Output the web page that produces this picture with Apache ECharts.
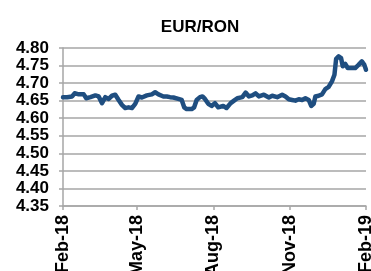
<!DOCTYPE html>
<html>
<head>
<meta charset="utf-8">
<script src="https://cdn.jsdelivr.net/npm/echarts@6/dist/echarts.min.js"></script>
<style>
  html, body { margin: 0; padding: 0; background: #fff; }
  #chart { width: 371px; height: 271px; }
</style>
</head>
<body>
<div id="chart"></div>
<script>
// EUR/RON daily fix
const dates = [
  '2018-02-01', '2018-02-06', '2018-02-12', '2018-02-15', '2018-02-20', '2018-02-26',
  '2018-03-01', '2018-03-06', '2018-03-12', '2018-03-16', '2018-03-20', '2018-03-24',
  '2018-03-28', '2018-04-01', '2018-04-05', '2018-04-09', '2018-04-13', '2018-04-17',
  '2018-04-21', '2018-04-25', '2018-04-29', '2018-05-03', '2018-05-07', '2018-05-13',
  '2018-05-19', '2018-05-23', '2018-05-27', '2018-06-02', '2018-06-06', '2018-06-10',
  '2018-06-14', '2018-06-20', '2018-06-24', '2018-06-27', '2018-06-30', '2018-07-06',
  '2018-07-09', '2018-07-12', '2018-07-16', '2018-07-19', '2018-07-22', '2018-07-26',
  '2018-07-30', '2018-08-03', '2018-08-07', '2018-08-13', '2018-08-17', '2018-08-22',
  '2018-08-26', '2018-08-30', '2018-09-05', '2018-09-09', '2018-09-13', '2018-09-17',
  '2018-09-21', '2018-09-25', '2018-10-01', '2018-10-07', '2018-10-11', '2018-10-17',
  '2018-10-23', '2018-10-27', '2018-10-31', '2018-11-04', '2018-11-08', '2018-11-12',
  '2018-11-16', '2018-11-20', '2018-11-24', '2018-11-27', '2018-11-30', '2018-12-02',
  '2018-12-06', '2018-12-10', '2018-12-14', '2018-12-18', '2018-12-22', '2018-12-25',
  '2018-12-27', '2018-12-30', '2019-01-02', '2019-01-04', '2019-01-07', '2019-01-10',
  '2019-01-15', '2019-01-19', '2019-01-23', '2019-01-27', '2019-01-30', '2019-02-01'
]
const rates = [
  4.660, 4.660, 4.662, 4.671, 4.668, 4.668,
  4.657, 4.660, 4.665, 4.662, 4.643, 4.660,
  4.655, 4.664, 4.667, 4.652, 4.638, 4.629,
  4.631, 4.629, 4.641, 4.662, 4.659, 4.665,
  4.668, 4.674, 4.668, 4.662, 4.662, 4.660,
  4.659, 4.655, 4.652, 4.631, 4.626, 4.626,
  4.631, 4.652, 4.660, 4.662, 4.655, 4.641,
  4.635, 4.643, 4.631, 4.635, 4.629, 4.643,
  4.650, 4.657, 4.660, 4.673, 4.662, 4.665,
  4.671, 4.662, 4.667, 4.659, 4.664, 4.660,
  4.667, 4.662, 4.654, 4.652, 4.650, 4.654,
  4.652, 4.657, 4.652, 4.635, 4.641, 4.662,
  4.664, 4.668, 4.683, 4.689, 4.705, 4.724,
  4.769, 4.776, 4.771, 4.748, 4.755, 4.743,
  4.743, 4.743, 4.752, 4.762, 4.752, 4.738
]
const tickDates = ['2018-02-01', '2018-05-01', '2018-08-01', '2018-11-01', '2019-02-01']
const tickLabels = ['Feb-18', 'May-18', 'Aug-18', 'Nov-18', 'Feb-19']

// dates as plain day numbers so a value axis can place them
const toDay = (d) => Date.UTC(...d.split('-').map((n, i) => (i === 1 ? n - 1 : +n))) / 86400000
const tickDays = tickDates.map(toDay)
const gridColor = '#a6a6a6'
const labelFont = {
  color: '#000',
  fontFamily: 'Liberation Sans, Arial, sans-serif',
  fontWeight: 'bold',
  fontSize: 17,
}

const myChart = echarts.init(document.getElementById('chart'))
myChart.setOption({
  animation: false,
  title: {
    text: 'EUR/RON',
    left: 195,
    textAlign: 'center',
    top: 14,
    textStyle: {
      color: '#000',
      fontFamily: 'Liberation Sans, Arial, sans-serif',
      fontWeight: 'bold',
      fontSize: 17,
    },
  },
  grid: {
    left: 63,
    right: 5,
    top: 48,
    bottom: 65,
    outerBoundsMode: 'none',
  },
  xAxis: {
    type: 'value',
    min: tickDays[0],
    max: tickDays[tickDays.length - 1],
    axisLine: { lineStyle: { color: gridColor, width: 1.5 } },
    axisTick: {
      show: true,
      length: 4,
      customValues: tickDays,
      lineStyle: { color: gridColor, width: 1.5 },
    },
    axisLabel: {
      ...labelFont,
      fontSize: 18,
      rotate: 90,
      margin: 9,
      showMinLabel: true,
      showMaxLabel: true,
      customValues: tickDays,
      formatter: (val) => {
        const i = tickDays.indexOf(val)
        return i >= 0 ? tickLabels[i] : ''
      },
    },
    splitLine: { show: false },
  },
  yAxis: {
    type: 'value',
    min: 4.35,
    max: 4.8,
    interval: 0.05,
    axisLine: { show: true, lineStyle: { color: gridColor, width: 1.5 } },
    axisTick: { show: true, length: 4, lineStyle: { color: gridColor, width: 1.5 } },
    axisLabel: {
      ...labelFont,
      margin: 14,
      formatter: (v) => v.toFixed(2),
    },
    splitLine: { lineStyle: { color: gridColor, width: 1.5 } },
  },
  series: [
    {
      type: 'line',
      data: dates.map((d, i) => [toDay(d), rates[i]]),
      showSymbol: false,
      lineStyle: { color: '#1f4e80', width: 4.5, join: 'round', cap: 'round' },
      itemStyle: { color: '#1f4e80' },
    },
  ],
})
</script>
</body>
</html>
